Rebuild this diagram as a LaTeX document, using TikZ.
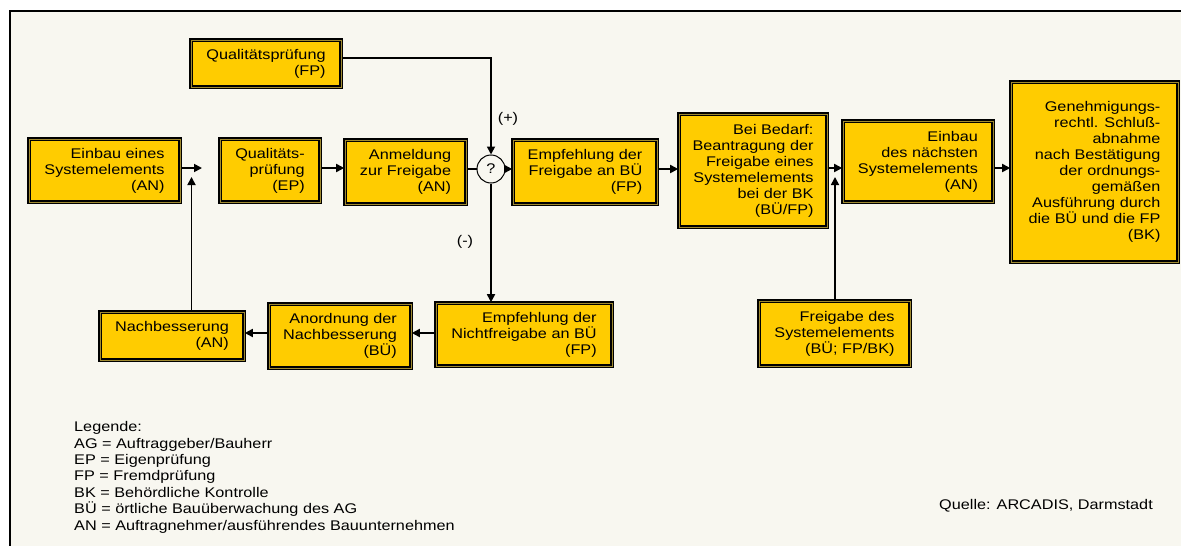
\documentclass[tikz,border=0pt]{standalone}
\usepackage{fontspec}
\setmainfont{Liberation Sans}[FakeStretch=1.16]
\usetikzlibrary{arrows.meta}
\definecolor{bg}{HTML}{F8F7F0}
\definecolor{boxyellow}{HTML}{FFCC00}
\definecolor{goldline}{HTML}{A08A30}
\begin{document}
\begin{tikzpicture}[x=1pt,y=-1pt,
  every node/.style={font=\fontsize{14}{16}\selectfont, text=black},
  box/.style={draw=black, line width=1.5pt, double=goldline, double distance=0.9pt, fill=boxyellow, align=right, inner sep=0pt},
  arr/.style={line width=1.7pt, -{Triangle[length=8pt,width=8pt]}},
  conn/.style={line width=1.7pt}]
\useasboundingbox (0,0) rectangle (1181,546);
\fill[white] (0,0) rectangle (1181,546);
\draw[line width=2pt, fill=bg] (10,11) rectangle (1200,570);

% boxes
\node[box, minimum width=150.1pt, minimum height=47.1pt] (qfp) at (266,63.5) {Qualitätsprüfung\\(FP)};
\node[box, minimum width=151.1pt, minimum height=63.1pt] (einbau1) at (104.5,170.5) {Einbau eines\\Systemelements\\(AN)};
\node[box, minimum width=100.1pt, minimum height=63.1pt] (qep) at (270,170.5) {Qualitäts-\\prüfung\\(EP)};
\node[box, minimum width=121.1pt, minimum height=64.1pt] (anm) at (405.5,172) {Anmeldung\\zur Freigabe\\(AN)};
\node[draw=black, line width=1pt, fill=bg, circle, minimum size=28pt, inner sep=0pt] (q) at (491,169) {?};
\node[box, minimum width=144.1pt, minimum height=64.1pt] (empf) at (585,172) {Empfehlung der\\Freigabe an BÜ\\(FP)};
\node[box, minimum width=148.1pt, minimum height=113.1pt] (bedarf) at (753,170.5) {Bei Bedarf:\\Beantragung der\\Freigabe eines\\Systemelements\\bei der BK\\(BÜ/FP)};
\node[box, minimum width=150.1pt, minimum height=81.1pt] (einbau2) at (918,161.5) {Einbau\\des nächsten\\Systemelements\\(AN)};
\node[box, minimum width=167.1pt, minimum height=180.1pt] (genehm) at (1094.5,172) {Genehmigungs-\\rechtl. Schluß-\\abnahme\\nach Bestätigung\\der ordnungs-\\gemäßen\\Ausführung durch\\die BÜ und die FP\\(BK)};
\node[box, minimum width=144.1pt, minimum height=48.1pt] (nach) at (172,336) {Nachbesserung\\(AN)};
\node[box, minimum width=142.1pt, minimum height=64.1pt] (anord) at (340,336) {Anordnung der\\Nachbesserung\\(BÜ)};
\node[box, minimum width=176.1pt, minimum height=63.1pt] (nicht) at (524,334.5) {Empfehlung der\\Nichtfreigabe an BÜ\\(FP)};
\node[box, minimum width=151.1pt, minimum height=65.1pt] (freig) at (834.5,333.5) {Freigabe des\\Systemelements\\(BÜ; FP/BK)};

% helper coordinates
\coordinate (row) at (0,168);
\coordinate (row2) at (0,333);
\coordinate (j1) at (202,168);
\coordinate (j1b) at (191.5,177);
\coordinate (j2b) at (835,177);
\coordinate (topc) at (491,58);

% connectors
\draw[arr] (einbau1.east |- row) -- (j1);
\draw[arr] (j1b |- nach.north) -- (j1b);
\draw[arr] (qep.east |- row) -- (anm.west |- row);
\draw[conn] (anm.east |- q) -- (q.west);
\draw[arr] (qfp.east |- topc) -- (topc) -- (q.north);
\draw[arr] (q.east) -- (empf.west |- q);
\draw[arr] (empf.east |- q) -- (bedarf.west |- q);
\draw[arr] (q.south) -- (q.south |- nicht.north);
\draw[arr] (nicht.west |- row2) -- (anord.east |- row2);
\draw[arr] (anord.west |- row2) -- (nach.east |- row2);
\draw[arr] (bedarf.east |- row) -- (einbau2.west |- row);
\draw[arr] (j2b |- freig.north) -- (j2b);
\draw[arr] (einbau2.east |- row) -- (genehm.west |- row);

% labels
\node (plus) at (508,119) {(+)};
\node (minus) at (465,242) {(-)};

% legend
\foreach \t [count=\i] in {Legende:, {AG = Auftraggeber/Bauherr}, {EP = Eigenprüfung}, {FP = Fremdprüfung}, {BK = Behördliche Kontrolle}, {BÜ = örtliche Bauüberwachung des AG}, {AN = Auftragnehmer/ausführendes Bauunternehmen}}
  \node[anchor=base west, inner sep=0pt] (leg\i) at (74,{431.7+16.4*(\i-1)}) {\t};

\node[anchor=base east, inner sep=0pt] (quelle) at (1153,509) {Quelle: ARCADIS, Darmstadt};
\end{tikzpicture}
\end{document}
